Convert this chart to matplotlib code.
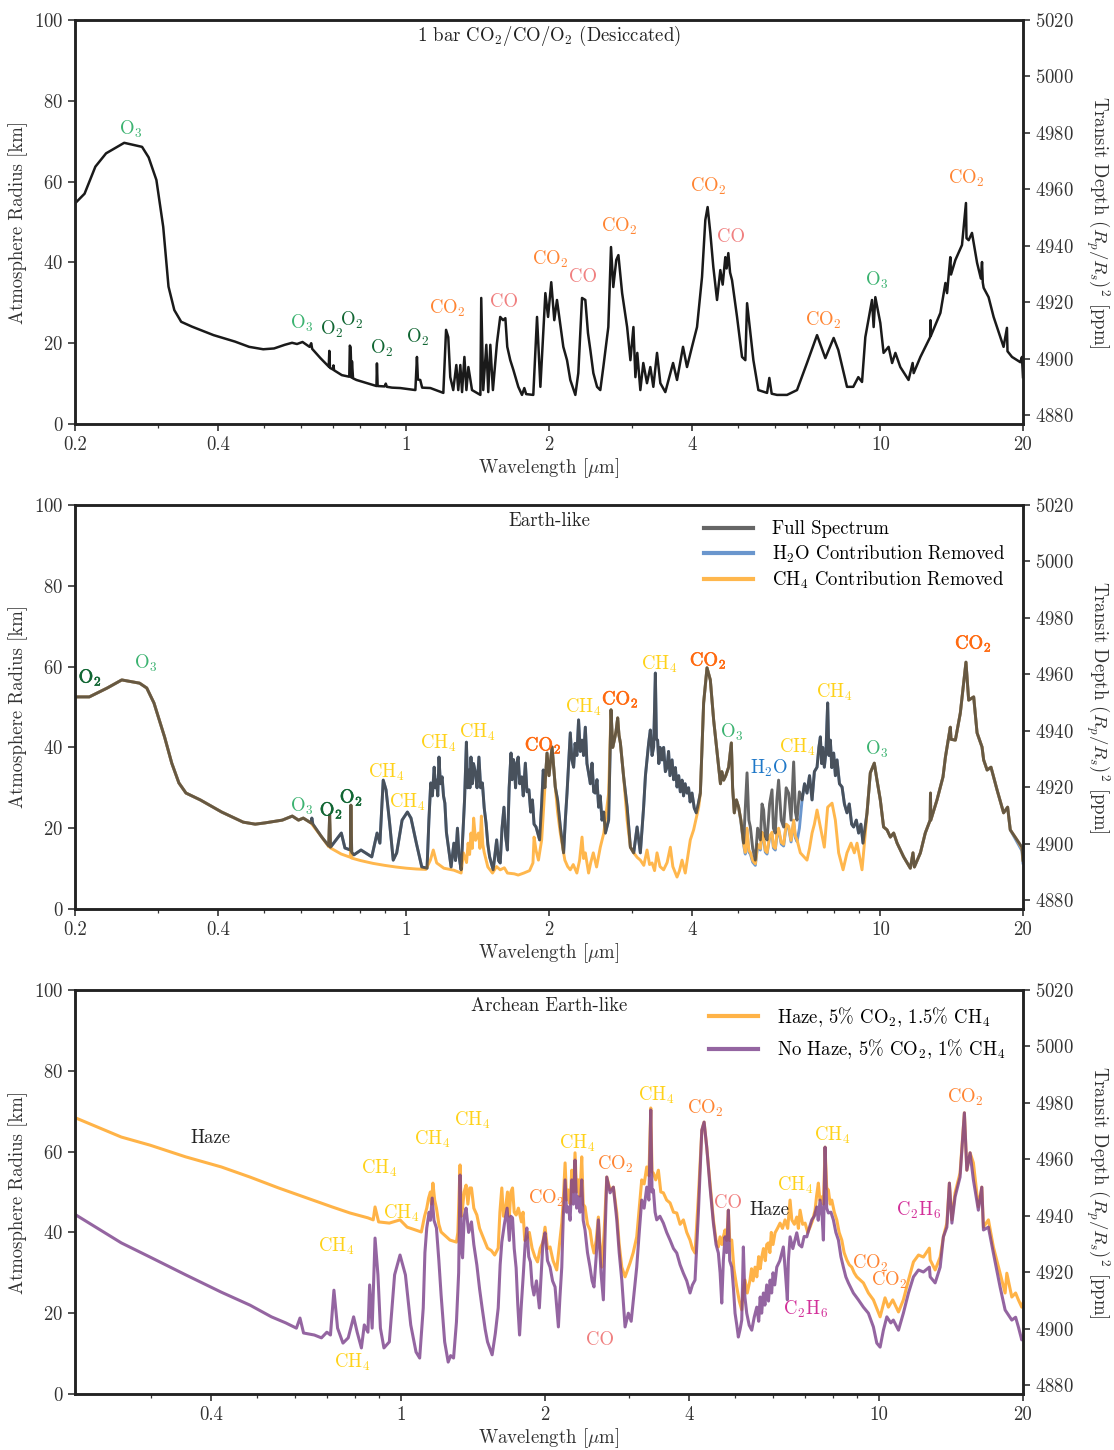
import matplotlib
matplotlib.use("Agg")
import matplotlib.pyplot as plt
from matplotlib.ticker import FixedLocator, FixedFormatter, NullFormatter
import matplotlib.patheffects as pe

plt.rcParams['font.family'] = ['cmr10', 'DejaVu Serif']
plt.rcParams['mathtext.fontset'] = 'cm'
plt.rcParams['axes.formatter.use_mathtext'] = True
plt.rcParams['axes.unicode_minus'] = False

# ---------------- Panel 1: 1 bar CO2/CO/O2 (Desiccated) ----------------
p1_wl = [0.200, 0.2095, 0.2208, 0.2326, 0.254, 0.277, 0.286, 0.297, 0.307, 0.315, 0.324,
         0.335, 0.353, 0.392, 0.435, 0.466, 0.499, 0.526, 0.554, 0.574, 0.588, 0.604,
         0.625, 0.630, 0.633, 0.659, 0.686, 0.688, 0.690, 0.700, 0.702, 0.704, 0.731, 0.758,
         0.760, 0.763, 0.766, 0.768, 0.772, 0.785, 0.865, 0.867, 0.870, 0.900, 0.905,
         0.910, 0.933, 0.971, 1.045, 1.053, 1.058, 1.070, 1.080, 1.124, 1.197, 1.213,
         1.226, 1.238, 1.256, 1.275, 1.287, 1.300, 1.311, 1.326, 1.339, 1.352, 1.376,
         1.433, 1.439, 1.453, 1.475, 1.489, 1.504, 1.523, 1.553, 1.578, 1.600, 1.618,
         1.633, 1.657, 1.682, 1.723, 1.754, 1.774, 1.790, 1.853, 1.887, 1.918, 1.965,
         1.991, 2.022, 2.052, 2.079, 2.102, 2.144, 2.183, 2.218, 2.273, 2.306, 2.348,
         2.386, 2.417, 2.445, 2.481, 2.526, 2.566, 2.604, 2.668, 2.703, 2.733, 2.773,
         2.802, 2.853, 2.923, 2.970, 3.014, 3.043, 3.071, 3.117, 3.162, 3.219, 3.272,
         3.320, 3.380, 3.435, 3.519, 3.606, 3.654, 3.725, 3.835, 3.910, 4.006, 4.105,
         4.206, 4.274, 4.322, 4.379, 4.443, 4.524, 4.597, 4.650, 4.710, 4.740, 4.779,
         4.820, 4.866, 4.986,
         5.108, 5.191, 5.235, 5.319, 5.398, 5.530, 5.768, 5.833, 5.900, 6.054, 6.356,
         6.672, 7.004, 7.354, 7.656, 7.972, 8.155, 8.506, 8.770, 8.987, 9.150, 9.298,
         9.605, 9.681, 9.761, 10.00, 10.16, 10.41, 10.59, 10.76, 11.02, 11.47, 11.70,
         11.76, 12.15, 12.74, 12.76, 12.78, 13.39, 13.72, 13.83, 14.05, 14.10, 14.40,
         14.87, 15.16, 15.20, 15.36, 15.61, 16.00, 16.30, 16.39, 16.45, 16.52, 16.92,
         17.34, 18.20, 18.50, 18.55, 18.96, 19.74, 19.90, 20.00]
p1_km = [54.6, 57.0, 63.7, 67.0, 69.6, 68.6, 66.0, 60.4, 48.8, 34.0, 28.2,
         25.3, 24.1, 22.0, 20.4, 19.1, 18.5, 18.7, 19.6, 20.1, 19.8, 20.3,
         19.1, 20.0, 18.6, 16.3, 14.2, 18.1, 13.9, 13.5, 14.5, 13.3, 12.1, 11.7,
         19.4, 19.0, 11.5, 15.5, 11.3, 10.9, 9.4, 15.0, 9.4, 9.3, 10.0,
         9.2, 9.0, 8.9, 8.4, 16.6, 11.0, 10.9, 9.0, 8.9, 7.7, 23.3,
         21.5, 11.6, 8.4, 14.6, 8.4, 14.6, 7.9, 16.6, 8.4, 14.1, 8.4,
         7.2, 31.2, 8.4, 19.6, 7.9, 19.6, 8.4, 20.0, 26.5, 25.7, 26.2,
         19.1, 15.8, 13.4, 9.2, 7.2, 8.9, 7.4, 7.2, 26.5, 9.2, 32.4,
         26.5, 35.1, 25.7, 30.7, 26.5, 19.1, 15.8, 10.9, 7.2, 12.6, 31.2,
         30.7, 22.5, 18.3, 12.6, 9.2, 8.4, 14.1, 24.0, 43.8, 33.9, 40.6,
         41.8, 32.4, 24.0, 15.8, 24.0, 11.6, 17.6, 8.4, 15.1, 10.1, 14.1,
         9.2, 17.6, 10.1, 7.9, 12.6, 15.1, 10.9, 19.1, 14.1, 19.1, 24.0,
         36.4, 50.5, 53.7, 47.3, 38.9, 30.7, 38.1, 34.5, 41.3, 38.5, 42.3,
         37.5, 35.6, 26.5,
         16.6, 15.8, 29.9, 22.5, 15.8, 8.4, 7.7, 11.4, 7.5, 7.2, 7.2,
         8.4, 15.1, 22.0, 16.3, 21.3, 18.3, 9.2, 9.2, 11.6, 10.4, 21.5,
         30.7, 24.0, 31.4, 25.0, 17.6, 19.1, 15.1, 17.6, 14.1, 10.9, 15.1,
         12.6, 16.6, 21.5, 25.7, 21.8, 27.5, 34.9, 32.4, 41.3, 37.0, 40.6,
         44.3, 54.7, 46.0, 45.5, 47.3, 39.9, 36.0, 40.1, 35.0, 33.7, 31.4,
         26.5, 19.1, 23.8, 18.0, 16.6, 15.3, 16.6, 11.6]

# ---------------- Panel 2: Earth-like (wavelength um, radius km) ----------------
p2_full = [
    (0.200, 52.5), (0.2144, 52.5), (0.2339, 54.7), (0.2510, 56.7), (0.2737, 55.9),
    (0.2834, 54.7), (0.2935, 51.0), (0.309, 42.6), (0.320, 36.1), (0.3313, 31.2),
    (0.3429, 28.7), (0.3676, 27.0), (0.4078, 24.0), (0.4527, 21.5), (0.480, 21.0),
    (0.5025, 21.3), (0.5475, 22.0), (0.5747, 23.0), (0.5923, 22.0), (0.6062, 22.5),
    (0.6294, 21.3), (0.632, 22.5), (0.635, 21.0), (0.6632, 17.8), (0.686, 15.6),
    (0.689, 23.3), (0.692, 15.3), (0.7293, 18.8), (0.7422, 15.1), (0.762, 14.6),
    (0.764, 25.7), (0.767, 14.0), (0.7752, 13.4), (0.8025, 14.6), (0.8455, 12.9),
    (0.8676, 18.8), (0.8796, 16.3), (0.8939, 31.9), (0.9062, 29.5), (0.9221, 21.3),
    (0.9384, 12.1), (0.9544, 13.9), (0.9797, 22.0), (1.0053, 24.0), (1.023, 22.5),
    (1.050, 16.3), (1.078, 10.4), (1.106, 10.1), (1.116, 22.0), (1.126, 31.2),
    (1.135, 28.0), (1.145, 35.1), (1.152, 30.0), (1.159, 31.9), (1.165, 28.0),
    (1.172, 37.6), (1.180, 31.0), (1.190, 32.7), (1.198, 28.0), (1.206, 26.2),
    (1.215, 19.0), (1.227, 15.3), (1.243, 10.4), (1.260, 16.3), (1.270, 12.0),
    (1.282, 20.0), (1.292, 13.0), (1.305, 9.7), (1.327, 27.0), (1.339, 41.3),
    (1.347, 30.0), (1.356, 34.4), (1.362, 30.0), (1.369, 37.6), (1.378, 31.0),
    (1.386, 36.0), (1.398, 33.9), (1.410, 30.0), (1.423, 37.6), (1.435, 30.0),
    (1.447, 31.2), (1.460, 25.0), (1.473, 21.3), (1.486, 16.0), (1.499, 12.9),
    (1.525, 9.7), (1.551, 17.1), (1.565, 12.0), (1.578, 11.4), (1.592, 20.0),
    (1.607, 25.2), (1.620, 18.0), (1.634, 14.6), (1.648, 30.0), (1.663, 38.6),
    (1.672, 32.0), (1.682, 37.0), (1.692, 35.1), (1.700, 30.0), (1.710, 36.0),
    (1.722, 37.6), (1.735, 31.0), (1.752, 32.7), (1.765, 28.0), (1.783, 36.1),
    (1.797, 29.0), (1.814, 29.5), (1.830, 24.0), (1.845, 27.0), (1.860, 21.0),
    (1.878, 20.3), (1.911, 17.1), (1.930, 26.0), (1.945, 34.4), (1.960, 30.0),
    (1.981, 38.6), (2.000, 33.0), (2.030, 40.1), (2.062, 30.2), (2.085, 27.0),
    (2.113, 20.3), (2.147, 13.9), (2.165, 22.0), (2.183, 28.7), (2.200, 36.0),
    (2.218, 43.6), (2.235, 37.0), (2.254, 35.1), (2.270, 41.0), (2.290, 38.0),
    (2.309, 46.8), (2.328, 39.0), (2.348, 41.8), (2.366, 38.0), (2.386, 45.0),
    (2.405, 36.0), (2.424, 33.7), (2.445, 31.0), (2.465, 36.1), (2.485, 29.0),
    (2.504, 28.7), (2.525, 32.0), (2.545, 25.2), (2.565, 28.0), (2.587, 22.0),
    (2.610, 24.0), (2.630, 18.8), (2.672, 22.0), (2.703, 49.3), (2.725, 40.0),
    (2.747, 41.8), (2.770, 44.0), (2.792, 47.3), (2.810, 43.0), (2.829, 41.1),
    (2.874, 32.7), (2.923, 25.2), (2.970, 15.3), (3.018, 13.9), (3.068, 20.3),
    (3.117, 13.9), (3.167, 25.2), (3.195, 33.0), (3.220, 36.9), (3.245, 41.0),
    (3.272, 44.3), (3.300, 38.0), (3.325, 40.1), (3.353, 58.4), (3.370, 42.0),
    (3.390, 41.8), (3.410, 36.0), (3.430, 40.0), (3.463, 36.9), (3.490, 40.0),
    (3.520, 34.0), (3.548, 35.1), (3.575, 39.0), (3.600, 33.0), (3.636, 36.9),
    (3.665, 32.0), (3.695, 35.0), (3.725, 30.2), (3.755, 33.0), (3.785, 29.0),
    (3.817, 31.9), (3.845, 28.0), (3.875, 31.0), (3.910, 28.7), (3.940, 30.0),
    (3.970, 26.5), (4.006, 28.7), (4.050, 25.0), (4.091, 23.8), (4.130, 26.0),
    (4.172, 28.7), (4.239, 51.0), (4.309, 59.7), (4.379, 56.7), (4.450, 46.8),
    (4.560, 35.1), (4.600, 31.0), (4.630, 34.0), (4.672, 31.9), (4.720, 33.0),
    (4.786, 35.1), (4.850, 41.1), (4.880, 30.0), (4.920, 23.8), (4.970, 27.0),
    (5.024, 25.2), (5.080, 22.0), (5.147, 16.3), (5.190, 25.0), (5.234, 33.7),
    (5.280, 22.0), (5.319, 20.3), (5.380, 15.0), (5.449, 12.1), (5.510, 20.0),
    (5.583, 17.1), (5.630, 26.0), (5.673, 24.5), (5.720, 18.0), (5.768, 17.1),
    (5.840, 26.0), (5.909, 29.5), (5.950, 20.0), (6.004, 18.8), (6.050, 27.0),
    (6.101, 31.9), (6.180, 22.0), (6.252, 20.3), (6.330, 30.0), (6.405, 28.7),
    (6.482, 22.0), (6.564, 36.4), (6.620, 24.0), (6.672, 22.0), (6.750, 29.0),
    (6.838, 27.0), (6.920, 31.0), (7.004, 28.7), (7.090, 33.0), (7.178, 27.0),
    (7.260, 34.0), (7.354, 35.1), (7.420, 40.0), (7.474, 42.6), (7.520, 36.0),
    (7.560, 40.0), (7.619, 35.1), (7.680, 39.0), (7.743, 51.0), (7.790, 38.0),
    (7.845, 41.8), (7.900, 35.0), (7.972, 38.6), (8.040, 33.0), (8.104, 36.9),
    (8.200, 31.0), (8.304, 30.2), (8.400, 26.0), (8.506, 23.8), (8.600, 26.0),
    (8.700, 21.0), (8.785, 20.3), (8.900, 22.0), (9.000, 18.8), (9.100, 21.0),
    (9.195, 16.3), (9.375, 23.8), (9.526, 33.7), (9.712, 36.1), (9.840, 31.9),
    (10.00, 27.0), (10.16, 20.3), (10.33, 19.6), (10.50, 17.8), (10.67, 18.8),
    (10.85, 16.3), (11.20, 12.9), (11.57, 10.1), (11.72, 13.9), (11.80, 10.4),
    (12.15, 13.9), (12.44, 18.8), (12.74, 22.0), (12.76, 28.7), (12.78, 22.0),
    (13.17, 27.0), (13.56, 32.7), (13.72, 37.6), (14.05, 45.0), (14.10, 42.0),
    (14.40, 41.8), (14.75, 48.5), (15.16, 61.1), (15.36, 51.7), (15.74, 52.5),
    (16.00, 43.6), (16.39, 40.1), (16.52, 36.9), (16.80, 34.4), (17.12, 35.1),
    (17.63, 29.5), (18.20, 23.8), (18.56, 25.2), (18.80, 19.6), (19.43, 17.1),
    (19.90, 15.3), (20.00, 12.1)]
# H2O-removed spectrum: read values inside the 5-7 um water band (elsewhere it
# lies under the full spectrum)
p2_h2o_band = [
    (5.080, 21.6), (5.147, 15.9), (5.190, 13.6), (5.234, 19.6), (5.280, 14.1),
    (5.319, 13.6), (5.380, 11.6), (5.449, 10.8), (5.510, 15.6), (5.583, 14.6),
    (5.630, 18.6), (5.673, 17.6), (5.720, 14.1), (5.768, 13.6), (5.840, 17.6),
    (5.909, 18.6), (5.950, 15.1), (6.004, 14.6), (6.050, 18.1), (6.101, 19.6),
    (6.180, 16.1), (6.252, 15.6), (6.330, 20.6), (6.405, 20.1), (6.482, 16.6),
    (6.564, 21.6), (6.620, 17.6), (6.672, 16.7), (6.750, 20.0), (6.838, 27.0)]
p2_h2o_tail = [(19.43, 16.6), (19.90, 14.4), (20.00, 11.4)]
p2_ch4_removed = [
    (0.200, 52.5), (0.2144, 52.5), (0.2339, 54.7), (0.2510, 56.7), (0.2737, 55.9),
    (0.2834, 54.7), (0.2935, 51.0), (0.309, 42.6), (0.320, 36.1), (0.3313, 31.2),
    (0.3429, 28.7), (0.3676, 27.0), (0.4078, 24.0), (0.4527, 21.5), (0.480, 21.0),
    (0.5025, 21.3), (0.5475, 22.0), (0.5747, 23.0), (0.5923, 22.0), (0.6062, 22.5),
    (0.6294, 21.3), (0.6632, 17.8), (0.686, 15.4), (0.689, 23.3), (0.692, 15.1),
    (0.729, 13.6), (0.762, 12.8), (0.764, 25.7), (0.767, 12.6), (0.80, 12.0),
    (0.85, 11.3), (0.90, 10.8), (0.95, 10.4), (1.00, 10.1), (1.05, 9.9),
    (1.10, 9.8), (1.124, 12.1), (1.14, 14.6), (1.159, 11.4), (1.20, 10.1),
    (1.26, 9.6), (1.305, 8.9), (1.32, 13.9), (1.34, 11.5), (1.35, 16.3),
    (1.36, 13.5), (1.369, 18.8), (1.378, 15.0), (1.387, 22.5), (1.40, 17.0),
    (1.42, 18.8), (1.43, 15.0), (1.44, 23.0), (1.45, 16.0), (1.46, 14.0),
    (1.486, 10.4), (1.52, 8.9), (1.55, 10.5), (1.578, 9.7), (1.61, 10.2),
    (1.634, 8.9), (1.69, 8.7), (1.722, 8.4), (1.77, 8.9), (1.82, 9.5),
    (1.85, 11.4), (1.86, 17.8), (1.878, 14.5), (1.90, 12.1), (1.93, 17.1),
    (1.96, 30.0), (1.981, 38.6), (2.000, 33.0), (2.030, 40.1), (2.062, 30.2),
    (2.085, 24.0), (2.113, 18.8), (2.16, 12.1), (2.19, 10.5), (2.218, 9.7),
    (2.25, 11.0), (2.29, 8.9), (2.32, 12.0), (2.348, 17.8), (2.366, 12.5),
    (2.386, 13.9), (2.424, 8.9), (2.45, 11.5), (2.48, 13.9), (2.52, 10.4),
    (2.566, 15.3), (2.61, 18.8), (2.672, 28.7), (2.703, 49.3), (2.725, 40.0),
    (2.747, 41.8), (2.770, 44.0), (2.792, 47.3), (2.810, 43.0), (2.829, 41.1),
    (2.874, 32.7), (2.923, 22.0), (2.970, 15.3), (3.018, 13.9), (3.068, 12.8),
    (3.117, 12.1), (3.17, 10.8), (3.22, 14.6), (3.26, 11.0), (3.30, 11.4),
    (3.34, 9.5), (3.38, 13.9), (3.43, 10.5), (3.49, 9.7), (3.55, 11.5),
    (3.606, 15.3), (3.65, 10.5), (3.725, 7.9), (3.77, 9.5), (3.817, 12.1),
    (3.877, 8.9), (3.973, 17.1), (4.038, 19.6), (4.08, 22.0), (4.138, 25.2),
    (4.172, 28.7), (4.239, 51.0), (4.309, 59.7), (4.379, 56.7), (4.450, 46.8),
    (4.560, 35.1), (4.600, 31.0), (4.630, 34.0), (4.672, 31.9), (4.720, 33.0),
    (4.786, 35.1), (4.850, 41.1), (4.880, 30.0), (4.920, 23.8), (4.970, 27.0),
    (5.024, 25.2), (5.080, 22.0), (5.147, 16.3), (5.19, 14.0), (5.234, 20.0),
    (5.28, 14.5), (5.319, 14.0), (5.38, 12.0), (5.449, 11.2), (5.51, 16.0),
    (5.583, 15.0), (5.63, 19.0), (5.673, 18.0), (5.72, 14.5), (5.768, 14.0),
    (5.84, 18.0), (5.909, 19.0), (5.95, 15.5), (6.004, 15.0), (6.05, 18.5),
    (6.101, 20.0), (6.18, 16.5), (6.252, 16.0), (6.33, 21.0), (6.405, 20.5),
    (6.482, 17.0), (6.564, 22.0), (6.62, 18.0), (6.672, 17.1), (6.781, 13.9),
    (7.004, 12.1), (7.09, 15.0), (7.178, 18.8), (7.26, 21.0), (7.354, 24.5),
    (7.474, 20.3), (7.619, 15.3), (7.743, 25.2), (7.910, 26.2), (8.038, 22.0),
    (8.168, 13.9), (8.345, 9.7), (8.506, 13.9), (8.674, 16.3), (8.814, 13.9),
    (8.930, 16.3), (9.150, 9.7), (9.298, 18.8), (9.375, 23.8), (9.526, 33.7),
    (9.712, 36.1), (9.840, 31.9), (10.00, 27.0), (10.16, 20.3), (10.33, 19.6),
    (10.50, 17.8), (10.67, 18.8), (10.85, 16.3), (11.20, 12.9), (11.57, 10.1),
    (11.72, 13.9), (11.80, 10.4), (12.15, 13.9), (12.44, 18.8), (12.74, 22.0),
    (12.76, 28.7), (12.78, 22.0), (13.17, 27.0), (13.56, 32.7), (13.72, 37.6),
    (14.05, 45.0), (14.10, 42.0), (14.40, 41.8), (14.75, 48.5), (15.16, 61.1),
    (15.36, 51.7), (15.74, 52.5), (16.00, 43.6), (16.39, 40.1), (16.52, 36.9),
    (16.80, 34.4), (17.12, 35.1), (17.63, 29.5), (18.20, 23.8), (18.56, 25.2),
    (18.80, 19.6), (19.43, 17.1), (19.90, 15.0), (20.00, 12.0)]

# ---------------- Panel 3: Archean Earth-like ----------------
p3_haze = [
    (0.209, 68.3), (0.260, 63.6), (0.2985, 61.6), (0.3544, 58.7), (0.4209, 56.2),
    (0.4831, 53.7), (0.5546, 51.0), (0.6363, 48.5), (0.7178, 46.3), (0.7823, 44.8),
    (0.8527, 43.6), (0.8747, 43.1), (0.8824, 46.3), (0.8977, 42.6), (0.9452, 42.3),
    (0.9952, 43.1), (1.030, 41.3), (1.103, 40.1), (1.120, 44.0), (1.132, 46.0),
    (1.142, 48.5), (1.152, 50.0), (1.158, 47.0), (1.166, 52.2), (1.176, 48.0),
    (1.186, 46.0), (1.200, 42.0), (1.213, 40.1), (1.266, 38.1), (1.306, 37.6),
    (1.315, 40.0), (1.329, 56.7), (1.337, 44.0), (1.345, 46.0), (1.355, 50.0),
    (1.368, 51.7), (1.380, 47.0), (1.392, 51.0), (1.404, 51.0), (1.420, 46.0),
    (1.441, 44.3), (1.460, 41.0), (1.478, 39.4), (1.517, 36.1), (1.545, 35.5),
    (1.570, 34.4), (1.597, 36.1), (1.610, 45.0), (1.625, 51.0), (1.638, 44.0),
    (1.654, 46.0), (1.670, 50.0), (1.685, 44.0), (1.697, 50.0), (1.711, 51.0),
    (1.725, 45.0), (1.741, 44.3), (1.760, 46.0), (1.786, 42.6), (1.800, 45.0),
    (1.815, 38.0), (1.833, 38.6), (1.855, 40.0), (1.880, 36.1), (1.905, 34.0),
    (1.930, 32.7), (1.955, 36.0), (1.981, 37.6), (2.001, 41.3), (2.025, 36.0),
    (2.050, 36.4), (2.080, 33.0), (2.117, 30.7), (2.140, 36.0), (2.169, 42.3),
    (2.185, 48.0), (2.204, 57.2), (2.220, 48.0), (2.239, 50.5), (2.258, 47.0),
    (2.276, 55.4), (2.295, 50.0), (2.312, 59.7), (2.330, 50.0), (2.349, 53.0),
    (2.368, 49.0), (2.388, 58.7), (2.405, 47.0), (2.426, 46.3), (2.455, 42.0),
    (2.485, 40.6), (2.510, 37.0), (2.533, 34.9), (2.560, 38.0), (2.587, 43.8),
    (2.610, 36.0), (2.630, 31.4), (2.660, 40.0), (2.694, 53.7), (2.737, 50.5),
    (2.781, 51.2), (2.827, 44.8), (2.860, 37.0), (2.896, 31.4), (2.942, 29.0),
    (3.013, 32.4), (3.060, 35.0), (3.112, 38.9), (3.150, 46.0), (3.188, 53.0),
    (3.225, 52.0), (3.266, 56.2), (3.300, 54.0), (3.330, 70.8), (3.350, 55.0),
    (3.372, 54.7), (3.410, 53.0), (3.454, 55.4), (3.495, 50.0), (3.538, 49.8),
    (3.595, 48.0), (3.654, 47.3), (3.715, 45.0), (3.774, 44.8), (3.835, 42.0),
    (3.896, 43.1), (3.960, 40.0), (4.023, 38.1), (4.070, 36.0), (4.121, 34.9),
    (4.188, 48.8), (4.258, 65.3), (4.305, 67.3), (4.360, 61.1), (4.430, 52.2),
    (4.502, 43.1), (4.560, 38.0), (4.611, 36.4), (4.649, 38.9), (4.690, 37.0),
    (4.724, 38.9), (4.762, 40.6), (4.800, 38.0), (4.839, 45.5), (4.870, 38.0),
    (4.918, 38.1), (4.970, 31.0), (5.038, 26.5), (5.100, 23.0), (5.161, 20.8),
    (5.200, 26.0), (5.244, 28.2), (5.300, 25.0), (5.371, 28.2), (5.410, 31.0),
    (5.450, 28.0), (5.503, 31.4), (5.550, 29.0), (5.600, 34.0), (5.640, 31.0),
    (5.683, 33.9), (5.730, 36.0), (5.780, 33.0), (5.820, 37.0), (5.867, 37.4),
    (5.910, 35.0), (5.950, 40.0), (6.000, 37.0), (6.059, 39.9), (6.130, 41.0),
    (6.207, 42.3), (6.280, 41.0), (6.357, 43.1), (6.440, 41.0), (6.513, 48.0),
    (6.568, 43.1), (6.650, 42.0), (6.727, 43.8), (6.780, 41.0), (6.835, 45.5),
    (6.920, 42.0), (7.002, 42.3), (7.090, 40.0), (7.172, 41.3), (7.260, 43.0),
    (7.347, 45.5), (7.400, 49.0), (7.464, 52.2), (7.520, 48.0), (7.587, 48.8),
    (7.650, 47.0), (7.709, 61.1), (7.770, 51.0), (7.833, 50.5), (7.900, 47.0),
    (7.962, 48.0), (8.060, 45.0), (8.156, 43.1), (8.250, 40.0), (8.356, 38.1),
    (8.450, 35.0), (8.559, 33.2), (8.660, 32.0), (8.768, 31.4), (8.870, 30.0),
    (8.981, 29.0), (9.272, 27.5), (9.498, 25.0), (9.730, 23.3), (10.05, 19.1),
    (10.29, 23.8), (10.46, 21.5), (10.68, 23.3), (10.98, 20.3), (11.24, 23.3),
    (11.52, 28.2), (11.80, 32.7), (12.09, 34.4), (12.38, 33.9), (12.74, 36.1),
    (12.79, 33.2), (13.10, 30.7), (13.42, 33.9), (13.63, 38.9), (13.86, 42.3),
    (14.03, 52.2), (14.20, 43.1), (14.42, 49.8), (14.77, 54.7), (15.08, 69.6),
    (15.26, 55.4), (15.50, 59.7), (15.75, 57.2), (16.13, 46.3), (16.40, 51.2),
    (16.53, 41.3), (16.93, 43.1), (17.34, 36.4), (17.91, 29.9), (18.35, 25.0),
    (18.50, 29.9), (18.95, 24.0), (19.30, 25.0), (19.56, 23.3), (19.88, 21.5),
    (20.00, 22.5)]
p3_no_haze = [
    (0.209, 44.3), (0.260, 37.4), (0.2985, 33.9), (0.3544, 29.5), (0.4209, 25.2),
    (0.4831, 22.0), (0.5357, 19.1), (0.574, 17.6), (0.6042, 16.3), (0.6147, 18.8),
    (0.6254, 15.1), (0.6587, 14.6), (0.6817, 13.9), (0.6997, 15.3), (0.7119, 14.6),
    (0.7239, 25.7), (0.7367, 16.3), (0.7561, 12.6), (0.7755, 13.9), (0.7959, 19.1),
    (0.8096, 15.3), (0.8263, 11.4), (0.8379, 17.1), (0.8527, 15.3), (0.8597, 27.0),
    (0.8702, 16.3), (0.8824, 38.6), (0.8948, 29.5), (0.9055, 16.3), (0.9210, 11.4),
    (0.9452, 12.9), (0.9696, 29.5), (0.9952, 34.4), (1.0214, 29.5), (1.048, 17.1),
    (1.075, 10.4), (1.094, 8.9), (1.113, 21.3), (1.122, 35.0), (1.132, 41.1),
    (1.145, 45.0), (1.152, 43.0), (1.162, 48.5), (1.172, 43.0), (1.186, 41.1),
    (1.200, 33.0), (1.213, 24.5), (1.234, 12.9), (1.255, 7.9), (1.270, 9.5),
    (1.288, 8.9), (1.306, 17.8), (1.320, 30.0), (1.329, 54.2), (1.337, 36.0),
    (1.345, 33.7), (1.356, 44.0), (1.368, 46.0), (1.385, 40.0), (1.404, 42.6),
    (1.420, 37.0), (1.441, 31.9), (1.460, 26.0), (1.478, 21.3), (1.500, 16.0),
    (1.517, 12.9), (1.551, 9.7), (1.575, 15.0), (1.597, 21.3), (1.612, 32.0),
    (1.625, 37.6), (1.645, 42.0), (1.667, 46.0), (1.685, 38.0), (1.697, 44.0),
    (1.711, 43.6), (1.725, 36.0), (1.741, 31.2), (1.755, 22.0), (1.770, 14.6),
    (1.785, 22.0), (1.802, 29.5), (1.818, 37.0), (1.833, 41.1), (1.850, 34.0),
    (1.865, 32.7), (1.880, 27.0), (1.897, 24.5), (1.920, 28.0), (1.947, 21.3),
    (1.965, 30.0), (1.981, 37.6), (2.001, 39.9), (2.025, 33.0), (2.050, 31.4),
    (2.075, 28.0), (2.100, 26.5), (2.134, 16.6), (2.150, 24.0), (2.169, 31.4),
    (2.185, 44.0), (2.204, 53.0), (2.220, 45.0), (2.239, 46.3), (2.258, 43.0),
    (2.276, 53.0), (2.295, 47.0), (2.312, 57.9), (2.330, 46.0), (2.349, 48.8),
    (2.368, 45.0), (2.388, 53.0), (2.405, 43.0), (2.426, 40.6), (2.455, 35.0),
    (2.485, 31.4), (2.510, 28.0), (2.533, 26.5), (2.560, 34.0), (2.587, 43.1),
    (2.620, 30.0), (2.650, 23.3), (2.670, 38.0), (2.694, 53.7), (2.737, 49.8),
    (2.781, 51.2), (2.827, 43.1), (2.860, 35.0), (2.896, 28.2), (2.942, 16.6),
    (2.989, 20.0), (3.030, 18.0), (3.062, 23.3), (3.112, 31.4), (3.150, 40.0),
    (3.188, 48.0), (3.225, 46.0), (3.266, 51.2), (3.300, 48.0), (3.330, 70.3),
    (3.350, 50.0), (3.372, 50.5), (3.400, 45.0), (3.427, 43.1), (3.480, 44.0),
    (3.538, 42.3), (3.595, 40.0), (3.654, 38.1), (3.715, 36.0), (3.774, 34.9),
    (3.835, 32.0), (3.896, 29.9), (3.960, 28.0), (4.023, 25.0), (4.070, 27.0),
    (4.121, 28.2), (4.188, 44.8), (4.258, 65.3), (4.305, 67.3), (4.360, 61.1),
    (4.430, 51.2), (4.502, 42.3), (4.560, 37.0), (4.611, 34.9), (4.650, 30.0),
    (4.687, 22.5), (4.724, 33.2), (4.762, 38.9), (4.800, 35.0), (4.839, 45.5),
    (4.870, 33.0), (4.918, 31.4), (4.960, 26.0), (4.997, 20.0), (5.040, 17.0),
    (5.077, 14.1), (5.120, 16.0), (5.161, 18.3), (5.201, 36.4), (5.240, 24.0),
    (5.286, 20.0), (5.350, 17.0), (5.416, 15.8), (5.480, 19.0), (5.548, 21.5),
    (5.600, 18.0), (5.640, 24.0), (5.680, 20.0), (5.728, 25.0), (5.770, 22.0),
    (5.820, 27.0), (5.870, 23.0), (5.916, 28.2), (5.960, 25.0), (6.000, 30.0),
    (6.050, 27.0), (6.109, 31.4), (6.200, 33.0), (6.306, 36.4), (6.360, 31.0),
    (6.429, 23.3), (6.460, 33.0), (6.513, 38.9), (6.600, 36.0), (6.727, 39.9),
    (6.800, 37.0), (6.892, 36.4), (6.970, 39.0), (7.059, 38.9), (7.140, 41.0),
    (7.231, 43.1), (7.320, 44.0), (7.407, 46.3), (7.460, 43.0), (7.526, 48.0),
    (7.600, 44.0), (7.647, 38.1), (7.709, 61.1), (7.770, 46.0), (7.833, 44.8),
    (7.930, 45.0), (8.024, 43.1), (8.120, 40.0), (8.221, 38.1), (8.320, 34.0),
    (8.420, 31.4), (8.520, 29.0), (8.626, 27.5), (8.835, 25.0), (9.052, 23.3),
    (9.272, 21.5), (9.498, 20.0), (9.730, 16.6), (9.890, 12.6), (10.05, 11.6),
    (10.21, 15.8), (10.38, 19.1), (10.58, 17.6), (10.71, 18.3), (10.98, 15.8),
    (11.24, 20.0), (11.52, 25.0), (11.80, 29.0), (12.09, 30.7), (12.38, 30.2),
    (12.74, 31.4), (12.79, 29.0), (13.10, 27.5), (13.42, 31.4), (13.63, 38.9),
    (13.86, 41.3), (14.03, 52.2), (14.20, 42.3), (14.42, 48.8), (14.77, 53.7),
    (15.08, 69.6), (15.26, 55.4), (15.50, 59.7), (15.75, 53.0), (16.13, 45.5),
    (16.40, 51.2), (16.53, 40.6), (16.93, 41.3), (17.34, 34.9), (17.91, 26.5),
    (18.35, 20.8), (18.95, 18.3), (19.30, 19.0), (19.56, 16.6), (19.88, 13.4),
    (20.00, 14.0)]

# ---------------- Annotations (label, wavelength, km, colour key) ----------------
C = {'O3': '#3cb371', 'O2': '#116633', 'CO2': '#ff8533', 'CO2b': '#ff6a10',
     'CO': '#f08080', 'CH4': '#ffd21a', 'H2O': '#1f78c8', 'C2H6': '#d3319a', 'k': '#222222'}
p1_ann = [(r'O$_3$', 0.262, 72.8, 'O3'), (r'O$_3$', 0.603, 24.8, 'O3'),
          (r'O$_2$', 0.695, 23.5, 'O2'), (r'O$_2$', 0.766, 25.7, 'O2'),
          (r'O$_2$', 0.886, 18.8, 'O2'), (r'O$_2$', 1.055, 21.5, 'O2'),
          (r'CO$_2$', 1.22, 28.7, 'CO2'), ('CO', 1.61, 30.2, 'CO'),
          (r'CO$_2$', 2.01, 40.8, 'CO2'), ('CO', 2.363, 36.4, 'CO'),
          (r'CO$_2$', 2.814, 48.8, 'CO2'), (r'CO$_2$', 4.336, 58.7, 'CO2'),
          ('CO', 4.85, 46.3, 'CO'), (r'CO$_2$', 7.58, 25.7, 'CO2'),
          (r'O$_3$', 9.81, 35.6, 'O3'), (r'CO$_2$', 15.19, 60.9, 'CO2')]
p2_ann = [(r'O$_2$', 0.2154, 57.4, 'O2'), (r'O$_3$', 0.2814, 60.9, 'O3'),
          (r'O$_3$', 0.603, 25.5, 'O3'), (r'O$_2$', 0.695, 24.5, 'O2'),
          (r'O$_2$', 0.766, 27.7, 'O2'), (r'CH$_4$', 0.907, 33.9, 'CH4'),
          (r'CH$_4$', 1.005, 26.5, 'CH4'), (r'CH$_4$', 1.168, 41.1, 'CH4'),
          (r'CH$_4$', 1.412, 43.8, 'CH4'), (r'CO$_2$', 1.945, 40.6, 'CO2b'),
          (r'CH$_4$', 2.363, 50.0, 'CH4'), (r'CO$_2$', 2.829, 52.0, 'CO2b'),
          (r'CH$_4$', 3.419, 60.6, 'CH4'), (r'CO$_2$', 4.336, 61.6, 'CO2b'),
          (r'O$_3$', 4.85, 43.6, 'O3'), (r'H$_2$O', 5.833, 34.9, 'H2O'),
          (r'CH$_4$', 6.68, 39.9, 'CH4'), (r'CH$_4$', 8.0, 53.7, 'CH4'),
          (r'O$_3$', 9.81, 39.6, 'O3'), (r'CO$_2$', 15.72, 65.8, 'CO2b')]
p3_ann = [('Haze', 0.3985, 63.4, 'k'), (r'CH$_4$', 0.731, 36.6, 'CH4'),
          (r'CH$_4$', 0.790, 7.9, 'CH4'), (r'CH$_4$', 0.899, 55.9, 'CH4'),
          (r'CH$_4$', 1.0, 44.8, 'CH4'), (r'CH$_4$', 1.161, 62.9, 'CH4'),
          (r'CH$_4$', 1.408, 67.8, 'CH4'), (r'CO$_2$', 2.011, 48.3, 'CO2'),
          (r'CH$_4$', 2.334, 62.1, 'CH4'), (r'CO$_2$', 2.804, 56.9, 'CO2'),
          ('CO', 2.61, 13.4, 'CO'), (r'CH$_4$', 3.417, 73.8, 'CH4'),
          (r'CO$_2$', 4.325, 70.8, 'CO2'), ('CO', 4.83, 47.3, 'CO'),
          ('Haze', 5.89, 45.5, 'k'), (r'CH$_4$', 6.67, 51.7, 'CH4'),
          (r'C$_2$H$_6$', 7.03, 21.0, 'C2H6'), (r'CH$_4$', 7.97, 63.9, 'CH4'),
          (r'CO$_2$', 9.58, 32.4, 'CO2'), (r'CO$_2$', 10.49, 28.2, 'CO2'),
          (r'C$_2$H$_6$', 12.07, 45.5, 'C2H6'), (r'CO$_2$', 15.13, 73.5, 'CO2')]


def xy(pairs):
    return [p[0] for p in pairs], [p[1] for p in pairs]


FS = 13.5
fig = plt.figure(figsize=(11.14, 14.5), dpi=100)
W = 948 / 1114
H = 404 / 1450
L = 75 / 1114
ax1 = fig.add_axes([L, 1 - 424 / 1450, W, H])
ax2 = fig.add_axes([L, 1 - 909 / 1450, W, H])
ax3 = fig.add_axes([L, 1 - 1394 / 1450, W, H])


def style(ax, xmin, majors, labels, minors, title):
    ax.set_xscale('log')
    ax.set_xlim(xmin, 20)
    ax.set_ylim(0, 100)
    ax.xaxis.set_major_locator(FixedLocator(majors))
    ax.xaxis.set_major_formatter(FixedFormatter(labels))
    ax.xaxis.set_minor_locator(FixedLocator(minors))
    ax.xaxis.set_minor_formatter(NullFormatter())
    ax.set_yticks([0, 20, 40, 60, 80, 100])
    ax.tick_params(axis='both', which='major', labelsize=FS, length=5, width=1.2,
                   colors='#333333', labelcolor='#333333')
    ax.tick_params(axis='x', which='minor', length=3, width=0.9, colors='#333333')
    for s in ax.spines.values():
        s.set_linewidth(1.8)
        s.set_color('#222222')
    ax.set_xlabel(r'Wavelength [$\mu$m]', fontsize=FS, color='#333333', labelpad=2)
    ax.set_ylabel('Atmosphere Radius [km]', fontsize=FS, color='#333333', labelpad=4)
    ax.text(0.5, 0.96, title, transform=ax.transAxes, ha='center', va='center',
            fontsize=FS, color='#222222')
    tw = ax.twinx()
    tw.set_ylim(4876.8, 5020)
    tw.set_yticks([4880, 4900, 4920, 4940, 4960, 4980, 5000, 5020])
    tw.tick_params(axis='y', labelsize=FS, length=5, width=1.2, colors='#333333',
                   labelcolor='#333333')
    for s in tw.spines.values():
        s.set_linewidth(1.8)
        s.set_color('#222222')
    tw.set_ylabel(r'Transit Depth $(R_p/R_s)^2$ [ppm]', fontsize=FS, color='#333333',
                  rotation=270, labelpad=27)
    return tw


def annotate(ax, anns, bold=(), sw=0.6):
    for lab, x, y, key in anns:
        t = ax.text(x, y, lab, color=C[key], fontsize=FS, ha='center', va='center')
        if key in bold:
            t.set_path_effects([pe.withStroke(linewidth=sw, foreground=C[key])])


maj = [0.2, 0.4, 1, 2, 4, 10, 20]
majl = ['0.2', '0.4', '1', '2', '4', '10', '20']
mins = [0.3, 0.5, 0.6, 0.7, 0.8, 0.9, 3, 5, 6, 7, 8, 9]

# Panel 1
ax1.plot(p1_wl, p1_km, color='#1a1a1a', lw=1.8, solid_joinstyle='round')
style(ax1, 0.2, maj, majl, mins, r'1 bar CO$_2$/CO/O$_2$ (Desiccated)')
annotate(ax1, p1_ann)

# Panel 2
full_w, full_k = xy(p2_full)
h2o_pairs = ([p for p in p2_full if p[0] < 5.05] + p2_h2o_band +
             [p for p in p2_full if 6.85 < p[0] < 19.4] + p2_h2o_tail)
h2o_w, h2o_k = xy(h2o_pairs)
ch4_w, ch4_k = xy(p2_ch4_removed)
lb, = ax2.plot(h2o_w, h2o_k, color='#6a96cd', lw=2.1)
lo, = ax2.plot(ch4_w, ch4_k, color='#ffb74d', lw=2.1)
lg, = ax2.plot(full_w, full_k, color='#404040', lw=2.1, alpha=0.8)
style(ax2, 0.2, maj, majl, mins, 'Earth-like')
annotate(ax2, p2_ann, bold=('O2', 'CO2b'), sw=0.4)
leg = ax2.legend([lg, lb, lo], ['Full Spectrum', r'H$_2$O Contribution Removed',
                                r'CH$_4$ Contribution Removed'],
                 loc='upper right', frameon=False, fontsize=FS, handlelength=2.6,
                 handletextpad=1.0, borderaxespad=0.3, labelspacing=0.28,
                 bbox_to_anchor=(0.995, 0.995))
for ln in leg.get_lines():
    ln.set_linewidth(3.0)

# Panel 3
hz_w, hz_k = xy(p3_haze)
nh_w, nh_k = xy(p3_no_haze)
ax3.plot(hz_w, hz_k, color='#ffb347', lw=2.2, label=r'Haze, 5% CO$_2$, 1.5% CH$_4$')
ax3.plot(nh_w, nh_k, color='#7a3f8a', lw=2.2, alpha=0.8,
         label=r'No Haze, 5% CO$_2$, 1% CH$_4$')
style(ax3, 0.208, [0.4, 1, 2, 4, 10, 20], ['0.4', '1', '2', '4', '10', '20'],
      [0.3, 0.5, 0.6, 0.7, 0.8, 0.9, 3, 5, 6, 7, 8, 9], 'Archean Earth-like')
annotate(ax3, p3_ann)
leg3 = ax3.legend(loc='upper right', frameon=False, fontsize=FS, handlelength=2.6,
                  handletextpad=1.0, borderaxespad=0.3, labelspacing=0.45,
                  bbox_to_anchor=(0.995, 0.995))
for ln in leg3.get_lines():
    ln.set_linewidth(3.0)

fig.savefig('out.png', dpi=100)
